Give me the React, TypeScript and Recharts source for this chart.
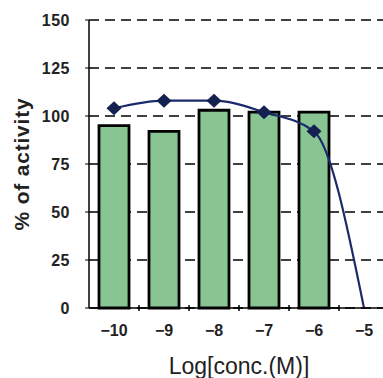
import React from "react";
import {
  ComposedChart,
  Bar,
  Line,
  XAxis,
  YAxis,
  CartesianGrid,
} from "recharts";

const categories = ["-10", "-9", "-8", "-7", "-6", "-5"];
const barValues: (number | null)[] = [95, 92, 103, 102, 102, null];
const lineValues = [104, 108, 108, 102, 92, 0];
const yTicks = [0, 25, 50, 75, 100, 125, 150];

const data = categories.map((c, i) => ({
  conc: c,
  bar: barValues[i],
  line: lineValues[i],
}));

const FONT = "Arial, 'Liberation Sans', sans-serif";

const XTick = (props: any) => {
  const { x, y, payload, index } = props;
  return (
    <g>
      {index > 0 && (
        <line x1={x - 25} x2={x - 25} y1={y - 5} y2={y - 11} stroke="#000" strokeWidth={1.5} />
      )}
      <text
        x={x}
        y={y + 20}
        textAnchor="middle"
        fill="#222"
        fontSize={16}
        fontWeight="bold"
        fontFamily={FONT}
      >
        {payload.value.replace("-", "\u2212")}
      </text>
    </g>
  );
};

const Diamond = (props: any) => {
  const { cx, cy, index } = props;
  if (index === 5 || cx == null) return null;
  return (
    <path
      key={index}
      d={`M${cx - 7.5},${cy} L${cx},${cy - 7} L${cx + 7.5},${cy} L${cx},${cy + 7} Z`}
      fill="#14204f"
    />
  );
};

export default function App() {
  return (
    <div
      style={{
        position: "fixed",
        left: 0,
        top: 0,
        width: 383,
        height: 378,
        overflow: "hidden",
        background: "#fff",
      }}
    >
      <ComposedChart
        width={400}
        height={378}
        data={data}
        margin={{ top: 20, right: 11, left: 0, bottom: 0 }}
        barCategoryGap={0}
      >
        <CartesianGrid vertical={false} stroke="#000" strokeDasharray="10 6" strokeWidth={1.3} />
        <XAxis
          dataKey="conc"
          height={70}
          axisLine={{ stroke: "#000", strokeWidth: 1.5 }}
          tickLine={false}
          tick={<XTick />}
          interval={0}
          label={{
            value: "Log[conc.(M)]",
            position: "insideBottom",
            offset: 4,
            fill: "#222",
            fontSize: 23,
            fontFamily: FONT,
          }}
        />
        <YAxis
          width={89}
          domain={[0, 150]}
          ticks={yTicks}
          interval={0}
          axisLine={{ stroke: "#000", strokeWidth: 1.5 }}
          tickLine={{ stroke: "#000" }}
          tickSize={4}
          tickMargin={15}
          tick={{ fill: "#222", fontSize: 16, fontWeight: "bold", fontFamily: FONT, letterSpacing: 0.5 }}
          label={{
            value: "% of activity",
            angle: -90,
            position: "insideLeft",
            offset: 22,
            style: { textAnchor: "middle", letterSpacing: 0.8 },
            fill: "#222",
            fontSize: 21,
            fontWeight: "bold",
            fontFamily: FONT,
          }}
        />
        <Bar
          dataKey="bar"
          barSize={30}
          fill="#89c592"
          stroke="#000"
          strokeWidth={2.8}
          isAnimationActive={false}
        />
        <Line
          dataKey="line"
          type="monotone"
          stroke="#1b2a6b"
          strokeWidth={2.2}
          dot={<Diamond />}
          activeDot={false}
          isAnimationActive={false}
        />
      </ComposedChart>
    </div>
  );
}
